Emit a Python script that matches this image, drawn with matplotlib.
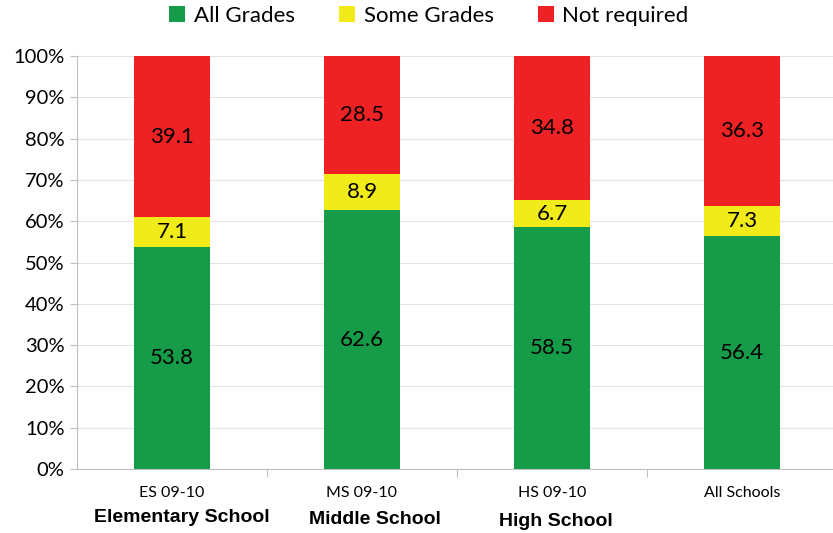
import matplotlib
matplotlib.use("Agg")
import matplotlib.pyplot as plt
from matplotlib.ticker import PercentFormatter
from matplotlib.transforms import blended_transform_factory

categories = ["ES 09-10", "MS 09-10", "HS 09-10", "All Schools"]
school_labels = ["Elementary School", "Middle School", "High School", ""]
all_grades = [53.8, 62.6, 58.5, 56.4]
some_grades = [7.1, 8.9, 6.7, 7.3]
not_required = [39.1, 28.5, 34.8, 36.3]
series_names = ["All Grades", "Some Grades", "Not required"]
colors = ["#169B48", "#F2EB1A", "#EE2124"]

W, H = 833, 533
fig = plt.figure(figsize=(W / 100, H / 100), dpi=100)
ax = fig.add_axes([77 / W, (H - 469) / H, 760 / W, 413 / H])

font = ["Lato", "DejaVu Sans"]
x = list(range(len(categories)))
bottom = [0.0] * len(categories)
for name, vals, c in zip(series_names, [all_grades, some_grades, not_required], colors):
    ax.bar(x, vals, width=0.395, bottom=bottom, color=c, label=name, zorder=3)
    for xi, v, b in zip(x, vals, bottom):
        ax.text(xi, b + v / 2, f"{v:.1f}", ha="center", va="center",
                fontsize=16, family=font, color="black", zorder=4)
    bottom = [b + v for b, v in zip(bottom, vals)]

ax.set_xlim(-0.5, 3.5)
ax.set_ylim(0, 100)
ax.set_yticks(range(0, 101, 10))
ax.yaxis.set_major_formatter(PercentFormatter(decimals=0))
ax.grid(axis="y", color="#E3E3E3", linewidth=0.8, zorder=0)
for s in ["top", "right"]:
    ax.spines[s].set_visible(False)
ax.spines["left"].set_color("#BFBFBF")
ax.spines["bottom"].set_color("#BFBFBF")
ax.tick_params(axis="y", length=5, color="#BFBFBF", labelsize=14.5, pad=4)
for lab in ax.get_yticklabels():
    lab.set_family(font)
ax.set_xticks([0.5, 1.5, 2.5], minor=False)
ax.set_xticklabels([])
ax.tick_params(axis="x", length=6, color="#BFBFBF", direction="out")

trans = blended_transform_factory(ax.transData, fig.transFigure)
for xi, cat in zip(x, categories):
    fig.text(xi, 1 - 493 / H, cat, transform=trans, ha="center", va="center",
             fontsize=11.5, family=font)
offsets = [(0.05, 518), (0.07, 520), (0.02, 522)]
for xi, lab, (dx, yy) in zip(x, school_labels, offsets + [(0, 520)]):
    if lab:
        fig.text(xi + dx, 1 - yy / H, lab, transform=trans, ha="center", va="center",
                 fontsize=14, fontweight="bold",
                 family=["Liberation Sans Narrow", "Liberation Sans", "DejaVu Sans"])

fig.legend(loc="center", bbox_to_anchor=(0.515, 1 - 16 / H), ncol=3, frameon=False,
           prop={"family": font, "size": 16}, handlelength=0.7, handleheight=0.7,
           handletextpad=0.4, columnspacing=2.0)

fig.savefig("out.png", dpi=100)
